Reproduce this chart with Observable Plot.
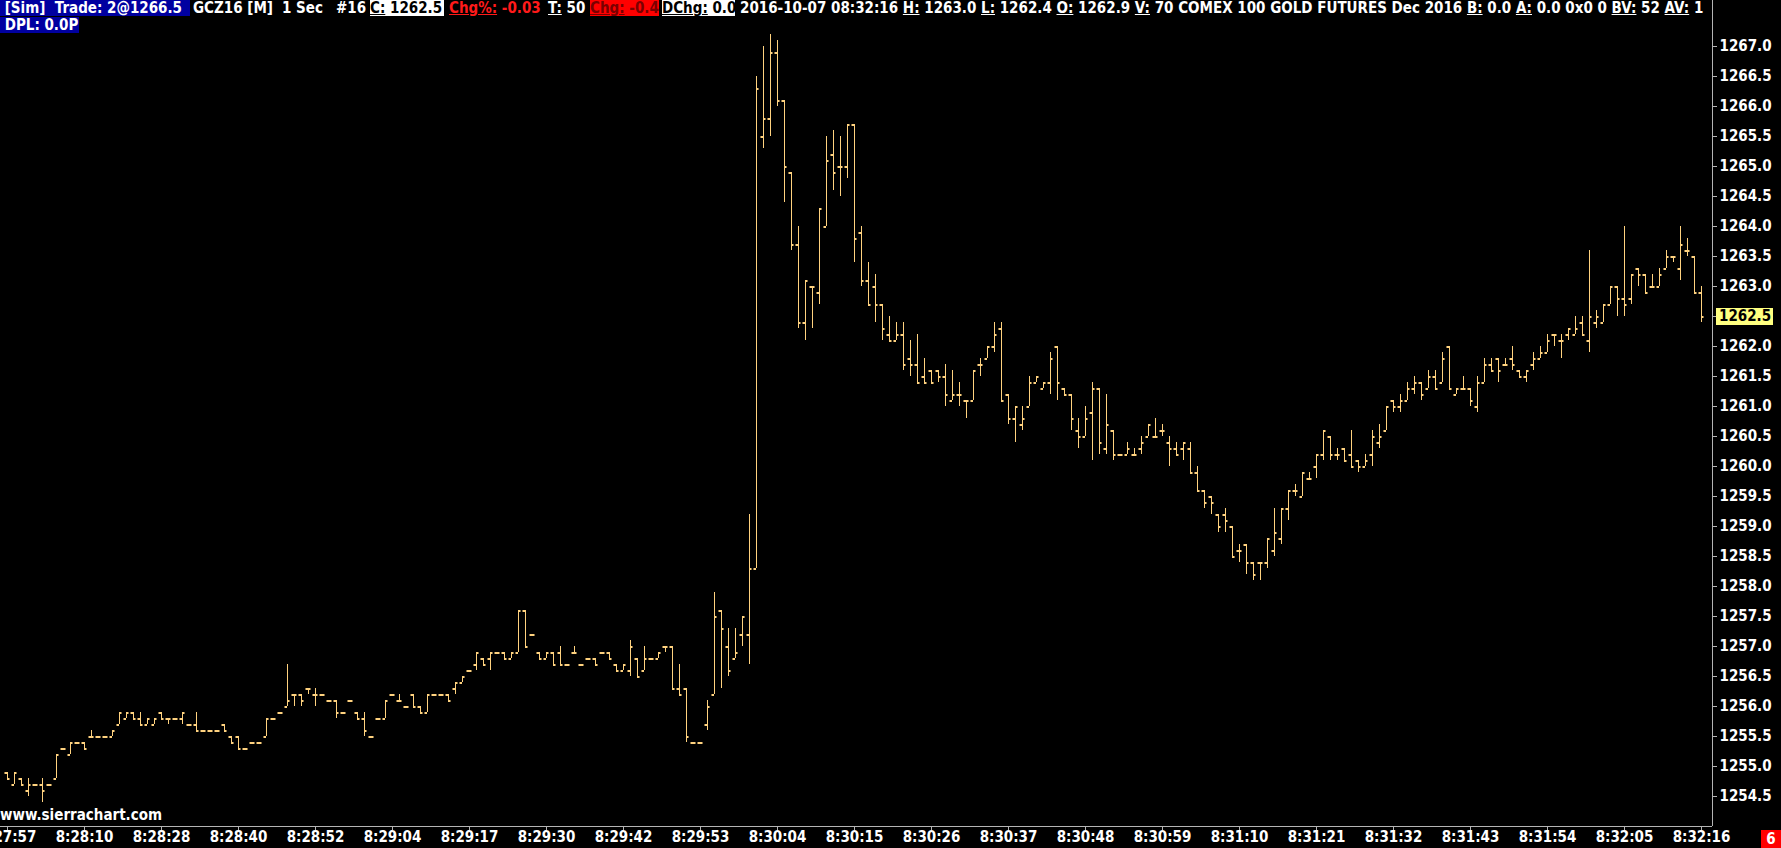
<!DOCTYPE html>
<html><head><meta charset="utf-8">
<script src="https://cdn.jsdelivr.net/npm/d3@7"></script>
<script src="https://cdn.jsdelivr.net/npm/@observablehq/plot@0.6"></script>
<style>
html,body{margin:0;padding:0;background:#000;overflow:hidden;width:1781px;height:848px;}
#wrap{position:relative;width:1781px;height:848px;}
#wrap svg{display:block;}
.ovl{position:absolute;font:bold 15px "DejaVu Sans Condensed","DejaVu Sans",sans-serif;color:#fff;white-space:pre;}
#hdr{left:0;top:0;width:1711px;height:34px;overflow:hidden;}
#hdr span.seg{position:absolute;height:16px;line-height:16px;}
u{text-decoration:underline;}
</style></head>
<body><div id="wrap"><div id="chart"></div><div id="hdr" class="ovl"></div></div>
<script>
// ---- data (1-second OHLC bars, GCZ16) ----
const openP = [1254.9,1254.7,1254.8,1254.6,1254.7,1254.7,1254.7,1254.8,1255.3,1255.2,
1255.4,1255.4,1255.5,1255.5,1255.5,1255.5,1255.7,1255.8,1255.9,1255.8,
1255.7,1255.7,1255.9,1255.8,1255.8,1255.8,1255.7,1255.7,1255.6,1255.6,
1255.6,1255.7,1255.5,1255.5,1255.3,1255.4,1255.4,1255.5,1255.8,1255.9,
1256.0,1256.2,1256.2,1256.3,1256.2,1256.2,1256.1,1256.1,1255.9,1256.1,
1255.9,1255.8,1255.5,1255.8,1255.8,1256.2,1256.1,1256.0,1256.2,1256.0,
1255.9,1256.2,1256.2,1256.2,1256.3,1256.4,1256.6,1256.7,1256.8,1256.8,
1256.9,1256.9,1256.8,1256.9,1257.6,1257.2,1256.9,1256.8,1256.9,1256.9,
1256.7,1256.9,1256.7,1256.8,1256.8,1256.9,1256.9,1256.7,1256.6,1256.6,
1256.8,1256.6,1256.8,1256.8,1257.0,1257.0,1256.3,1256.3,1255.4,1255.4,
1255.7,1256.2,1257.6,1257.0,1256.8,1257.2,1257.2,1258.3,1265.5,1265.8,
1266.9,1266.1,1264.9,1263.7,1262.4,1263.0,1262.9,1264.0,1265.2,1265.0,
1265.0,1265.7,1263.9,1263.1,1263.0,1262.7,1262.2,1262.1,1262.2,1261.8,
1261.7,1261.5,1261.6,1261.6,1261.5,1261.1,1261.2,1261.1,1261.1,1261.7,
1261.8,1262.0,1262.3,1261.2,1260.8,1260.7,1261.0,1261.4,1261.3,1261.4,
1262.0,1261.3,1261.2,1260.6,1260.5,1260.9,1261.3,1260.3,1260.6,1260.2,
1260.2,1260.2,1260.3,1260.5,1260.5,1260.6,1260.4,1260.3,1260.3,1260.3,
1259.9,1259.6,1259.5,1259.2,1259.2,1259.0,1258.6,1258.7,1258.4,1258.4,
1258.4,1258.6,1258.8,1259.3,1259.6,1259.5,1259.8,1260.0,1260.2,1260.5,
1260.2,1260.3,1260.2,1260.1,1260.0,1260.2,1260.4,1260.6,1261.1,1261.0,
1261.1,1261.3,1261.4,1261.3,1261.5,1261.4,1262.0,1261.2,1261.3,1261.3,
1261.0,1261.4,1261.7,1261.8,1261.7,1261.8,1261.6,1261.5,1261.7,1261.8,
1261.9,1262.2,1262.1,1262.2,1262.2,1262.4,1262.1,1262.4,1262.4,1262.7,
1263.0,1262.8,1262.8,1263.3,1263.2,1263.0,1263.0,1263.3,1263.5,1263.3,
1263.6,1263.5,1262.9];
const highP = [1254.9,1254.9,1254.8,1254.8,1254.7,1254.8,1254.7,1255.2,1255.3,1255.4,
1255.4,1255.4,1255.6,1255.5,1255.5,1255.6,1255.9,1255.9,1255.9,1255.9,
1255.8,1255.8,1255.9,1255.8,1255.8,1255.9,1255.7,1255.9,1255.6,1255.6,
1255.6,1255.7,1255.5,1255.5,1255.3,1255.4,1255.4,1255.8,1255.8,1255.9,
1256.7,1256.2,1256.2,1256.3,1256.3,1256.2,1256.1,1256.1,1255.9,1256.1,
1255.9,1255.9,1255.5,1255.8,1256.1,1256.2,1256.2,1256.0,1256.2,1256.0,
1256.2,1256.2,1256.2,1256.2,1256.4,1256.5,1256.6,1256.9,1256.8,1256.9,
1256.9,1256.9,1256.9,1257.6,1257.6,1257.2,1256.9,1256.9,1256.9,1257.0,
1256.7,1257.0,1256.7,1256.8,1256.8,1256.9,1256.9,1256.7,1256.7,1257.1,
1256.8,1257.0,1256.8,1256.9,1257.0,1257.0,1256.7,1256.3,1255.4,1255.4,
1256.1,1257.9,1257.6,1257.3,1257.3,1257.5,1259.2,1266.5,1267.0,1267.2,
1267.1,1266.1,1264.9,1264.0,1263.1,1263.0,1264.3,1265.5,1265.6,1265.5,
1265.7,1265.7,1264.0,1263.4,1263.2,1262.7,1262.5,1262.4,1262.4,1262.1,
1262.2,1261.8,1261.6,1261.6,1261.7,1261.6,1261.4,1261.1,1261.6,1261.8,
1262.0,1262.4,1262.4,1261.2,1261.0,1261.0,1261.5,1261.5,1261.4,1261.9,
1262.0,1261.3,1261.2,1260.8,1261.0,1261.4,1261.3,1261.2,1260.6,1260.2,
1260.4,1260.3,1260.5,1260.7,1260.8,1260.7,1260.5,1260.4,1260.4,1260.4,
1260.0,1259.6,1259.5,1259.2,1259.3,1259.0,1258.7,1258.7,1258.4,1258.4,
1258.8,1259.3,1259.3,1259.6,1259.7,1259.9,1259.9,1260.2,1260.6,1260.5,
1260.3,1260.3,1260.6,1260.1,1260.2,1260.6,1260.7,1261.0,1261.1,1261.2,
1261.4,1261.5,1261.4,1261.6,1261.6,1261.9,1262.0,1261.3,1261.5,1261.3,
1261.5,1261.8,1261.8,1261.8,1261.8,1262.0,1261.6,1261.6,1261.9,1262.0,
1262.2,1262.2,1262.2,1262.3,1262.5,1262.5,1263.6,1262.6,1262.7,1263.0,
1263.0,1264.0,1263.2,1263.3,1263.2,1263.2,1263.3,1263.6,1263.5,1264.0,
1263.8,1263.5,1263.0];
const lowP = [1254.8,1254.7,1254.7,1254.5,1254.7,1254.4,1254.7,1254.8,1255.3,1255.2,
1255.4,1255.3,1255.5,1255.5,1255.5,1255.5,1255.7,1255.8,1255.8,1255.7,
1255.7,1255.7,1255.8,1255.7,1255.8,1255.7,1255.7,1255.6,1255.6,1255.6,
1255.6,1255.6,1255.4,1255.3,1255.3,1255.4,1255.4,1255.5,1255.8,1255.9,
1256.0,1256.0,1256.0,1256.2,1256.0,1256.2,1256.1,1255.8,1255.9,1256.1,
1255.8,1255.5,1255.5,1255.8,1255.8,1256.2,1256.1,1256.0,1256.0,1255.9,
1255.9,1256.2,1256.2,1256.1,1256.2,1256.4,1256.6,1256.6,1256.7,1256.6,
1256.9,1256.8,1256.8,1256.9,1257.0,1257.2,1256.8,1256.8,1256.7,1256.7,
1256.7,1256.9,1256.7,1256.8,1256.7,1256.9,1256.8,1256.6,1256.6,1256.5,
1256.5,1256.6,1256.8,1256.8,1256.9,1256.3,1256.2,1255.4,1255.4,1255.4,
1255.6,1256.2,1256.3,1256.5,1256.8,1257.0,1256.7,1258.3,1265.3,1265.5,
1266.0,1264.4,1263.6,1262.3,1262.1,1262.3,1262.7,1264.0,1264.6,1264.5,
1264.8,1263.4,1263.0,1262.7,1262.4,1262.1,1262.1,1262.1,1261.6,1261.5,
1261.4,1261.4,1261.4,1261.4,1261.0,1261.1,1261.0,1260.8,1261.1,1261.5,
1261.8,1261.9,1261.1,1260.7,1260.4,1260.6,1261.0,1261.4,1261.3,1261.2,
1261.1,1261.2,1260.6,1260.3,1260.5,1260.1,1260.2,1260.2,1260.1,1260.2,
1260.2,1260.2,1260.2,1260.5,1260.5,1260.5,1260.0,1260.2,1260.1,1259.9,
1259.6,1259.3,1259.2,1258.9,1258.9,1258.5,1258.4,1258.2,1258.1,1258.1,
1258.3,1258.5,1258.7,1259.1,1259.5,1259.5,1259.8,1259.8,1260.1,1260.1,
1260.1,1260.1,1260.0,1259.9,1260.0,1260.0,1260.3,1260.6,1260.9,1260.9,
1261.1,1261.2,1261.1,1261.3,1261.3,1261.4,1261.3,1261.2,1261.3,1261.0,
1260.9,1261.4,1261.6,1261.4,1261.7,1261.6,1261.5,1261.4,1261.6,1261.8,
1261.9,1262.0,1261.8,1262.1,1262.2,1262.2,1261.9,1262.3,1262.4,1262.7,
1262.5,1262.5,1262.7,1263.0,1262.9,1263.0,1263.0,1263.3,1263.4,1263.1,
1263.5,1262.9,1262.4];
const closeP = [1254.8,1254.9,1254.7,1254.7,1254.7,1254.6,1254.7,1255.2,1255.3,1255.4,
1255.4,1255.3,1255.5,1255.5,1255.5,1255.6,1255.9,1255.9,1255.8,1255.7,
1255.8,1255.8,1255.8,1255.8,1255.8,1255.9,1255.7,1255.6,1255.6,1255.6,
1255.6,1255.6,1255.4,1255.3,1255.3,1255.4,1255.4,1255.8,1255.8,1255.9,
1256.1,1256.2,1256.1,1256.3,1256.2,1256.2,1256.1,1255.9,1255.9,1256.1,
1255.8,1255.6,1255.5,1255.8,1256.1,1256.2,1256.1,1256.0,1256.0,1255.9,
1256.2,1256.2,1256.2,1256.1,1256.4,1256.5,1256.6,1256.9,1256.7,1256.9,
1256.9,1256.8,1256.9,1257.6,1257.0,1257.2,1256.8,1256.9,1256.7,1256.7,
1256.7,1256.9,1256.7,1256.8,1256.7,1256.9,1256.8,1256.6,1256.7,1257.0,
1256.5,1256.8,1256.8,1256.9,1257.0,1256.3,1256.2,1255.5,1255.4,1255.4,
1256.0,1257.5,1257.3,1256.6,1256.9,1257.5,1258.3,1266.3,1265.8,1266.9,
1266.1,1265.0,1263.7,1262.4,1263.1,1263.0,1264.3,1265.1,1264.9,1265.0,
1265.7,1263.8,1263.1,1262.7,1262.7,1262.3,1262.1,1262.2,1261.7,1261.7,
1261.4,1261.4,1261.4,1261.5,1261.2,1261.2,1261.2,1261.1,1261.6,1261.7,
1262.0,1262.2,1261.1,1260.8,1261.0,1260.8,1261.4,1261.5,1261.4,1261.8,
1261.4,1261.2,1260.8,1260.5,1260.8,1261.3,1260.4,1260.7,1260.2,1260.2,
1260.3,1260.2,1260.4,1260.7,1260.5,1260.6,1260.3,1260.2,1260.4,1259.9,
1259.6,1259.4,1259.4,1259.0,1259.1,1258.5,1258.6,1258.4,1258.2,1258.4,
1258.8,1258.9,1259.3,1259.6,1259.6,1259.9,1259.8,1260.2,1260.6,1260.2,
1260.2,1260.1,1260.0,1260.0,1260.1,1260.5,1260.5,1261.0,1261.0,1261.1,
1261.3,1261.4,1261.2,1261.5,1261.3,1261.8,1261.3,1261.3,1261.3,1261.1,
1261.4,1261.7,1261.6,1261.6,1261.7,1261.7,1261.5,1261.6,1261.8,1261.9,
1262.1,1262.2,1262.1,1262.3,1262.3,1262.2,1262.5,1262.5,1262.7,1263.0,
1262.8,1262.7,1263.2,1263.2,1262.9,1263.0,1263.2,1263.5,1263.5,1263.7,
1263.6,1262.9,1262.5];
// time-axis labels, one every 11 bars starting at bar 0
const timeLabels = ["8:27:57","8:28:10","8:28:28","8:28:40","8:28:52","8:29:04","8:29:17","8:29:30",
"8:29:42","8:29:53","8:30:04","8:30:15","8:30:26","8:30:37","8:30:48","8:30:59","8:31:10",
"8:31:21","8:31:32","8:31:43","8:31:54","8:32:05","8:32:16"];
const labelStep = 11;
const priceTicks = [1254.5,1255.0,1255.5,1256.0,1256.5,1257.0,1257.5,1258.0,1258.5,1259.0,1259.5,
1260.0,1260.5,1261.0,1261.5,1262.0,1262.5,1263.0,1263.5,1264.0,1264.5,1265.0,1265.5,1266.0,1266.5,1267.0];

// ---- build ----
const bars = openP.map((o, i) => ({i, open: o, high: highP[i], low: lowP[i], close: closeP[i]}));
const tickIdx = timeLabels.map((_, k) => k * labelStep);
const labelMap = new Map(tickIdx.map((v, k) => [v, timeLabels[k]]));
const xDomain = [-1, 243.5714];
const yDomain = [1254.0, 1267.7667];
const barColor = "#ffd27f";
const axisGray = "#b4b4b4";
const tickLen = 0.36;
const fontFam = '"DejaVu Sans Condensed","DejaVu Sans",sans-serif';

const chart = Plot.plot({
  width: 1781, height: 848,
  marginLeft: 0, marginRight: 69, marginTop: 0, marginBottom: 22,
  style: {background: "#000", color: "#fff", fontFamily: fontFam, fontSize: "15px", fontWeight: "bold", overflow: "visible"},
  x: {domain: xDomain, ticks: tickIdx, tickFormat: d => labelMap.get(d) ?? "", tickSize: 4, tickPadding: 1, label: null},
  y: {domain: yDomain, axis: "right", ticks: priceTicks, tickFormat: d3.format(".1f"), tickSize: 4, tickPadding: 3, label: null},
  marks: [
    Plot.ruleY([yDomain[0]], {stroke: axisGray}),
    Plot.ruleX([xDomain[1]], {stroke: axisGray}),
    Plot.ruleX(bars, {x: "i", y1: "low", y2: "high", stroke: barColor, strokeWidth: 1}),
    Plot.ruleY(bars, {y: "open", x1: d => d.i - tickLen, x2: "i", stroke: barColor, strokeWidth: 2, dy: 0.5}),
    Plot.ruleY(bars, {y: "close", x1: "i", x2: d => d.i + tickLen, stroke: barColor, strokeWidth: 2, dy: 0.5})
  ]
});
document.getElementById("chart").appendChild(chart);

// gray tick marks
d3.select(chart).selectAll('g[aria-label="x-axis tick"], g[aria-label="y-axis tick"]').attr("stroke", axisGray);

// highlighted last price on the price axis
const last = bars[bars.length - 1];
const ys = chart.scale("y"), xs = chart.scale("x");
const yy = ys.apply(last.close);
const xx = xs.apply(xDomain[1]);
const hg = d3.select(chart).append("g").attr("text-anchor", "start");
hg.append("rect").attr("x", xx + 4).attr("y", yy - 8).attr("width", 57).attr("height", 17).attr("fill", "#ffff80");
hg.append("text").attr("x", xx + 7).attr("y", yy + 0.5).attr("dy", "0.32em").attr("fill", "#000")
  .attr("text-anchor", "start")
  .attr("font-family", fontFam).attr("font-weight", "bold").attr("font-size", 15).text(d3.format(".1f")(last.close));

// header texts (Sierra Chart title bar)
const hdrSegs = [
  {l: 0, t: 0, w: 190, bg: "#0000a0", h: " [Sim]  Trade: 2@1266.5"},
  {l: 193, t: 0, h: "GCZ16 [M]"},
  {l: 282, t: 0, h: "1 Sec"},
  {l: 336, t: 0, h: "#16"},
  {l: 370, t: 0, w: 74, bg: "#ffffff", c: "#000", h: "<u>C:</u> 1262.5"},
  {l: 449, t: 0, c: "#ff1a1a", h: "<u>Chg%:</u> -0.03"},
  {l: 548, t: 0, h: "<u>T:</u> 50"},
  {l: 590, t: 0, w: 69, bg: "#ff0000", c: "#7a0000", h: "<u>Chg:</u> -0.4"},
  {l: 662, t: 0, w: 73, bg: "#ffffff", c: "#000", h: "<u>DChg:</u> 0.0"},
  {l: 740, t: 0, h: "2016-10-07 08:32:16 <u>H:</u> 1263.0 <u>L:</u> 1262.4 <u>O:</u> 1262.9 <u>V:</u> 70 COMEX 100 GOLD FUTURES Dec 2016 <u>B:</u> 0.0 <u>A:</u> 0.0 0x0 0 <u>BV:</u> 52 <u>AV:</u> 1"},
  {l: 0, t: 17, w: 79, bg: "#0000a0", h: " DPL: 0.0P"}
];
const hdr = document.getElementById("hdr");
for (const s of hdrSegs) {
  const sp = document.createElement("span");
  sp.className = "seg";
  sp.style.left = s.l + "px"; sp.style.top = s.t + "px";
  if (s.w) sp.style.width = s.w + "px";
  if (s.bg) sp.style.background = s.bg;
  if (s.c) sp.style.color = s.c;
  sp.innerHTML = s.h;
  hdr.appendChild(sp);
}
// footer items
const wrap = document.getElementById("wrap");
const wm = document.createElement("div");
wm.className = "ovl"; wm.style.left = "0px"; wm.style.top = "807px"; wm.style.lineHeight = "17px";
wm.textContent = "www.sierrachart.com";
wrap.appendChild(wm);
const badge = document.createElement("div");
badge.className = "ovl"; badge.style.left = "1761px"; badge.style.top = "830px"; badge.style.width = "20px";
badge.style.height = "18px"; badge.style.lineHeight = "18px"; badge.style.textAlign = "center"; badge.style.background = "#ff0000";
badge.textContent = "6";
wrap.appendChild(badge);
</script>
</body></html>
